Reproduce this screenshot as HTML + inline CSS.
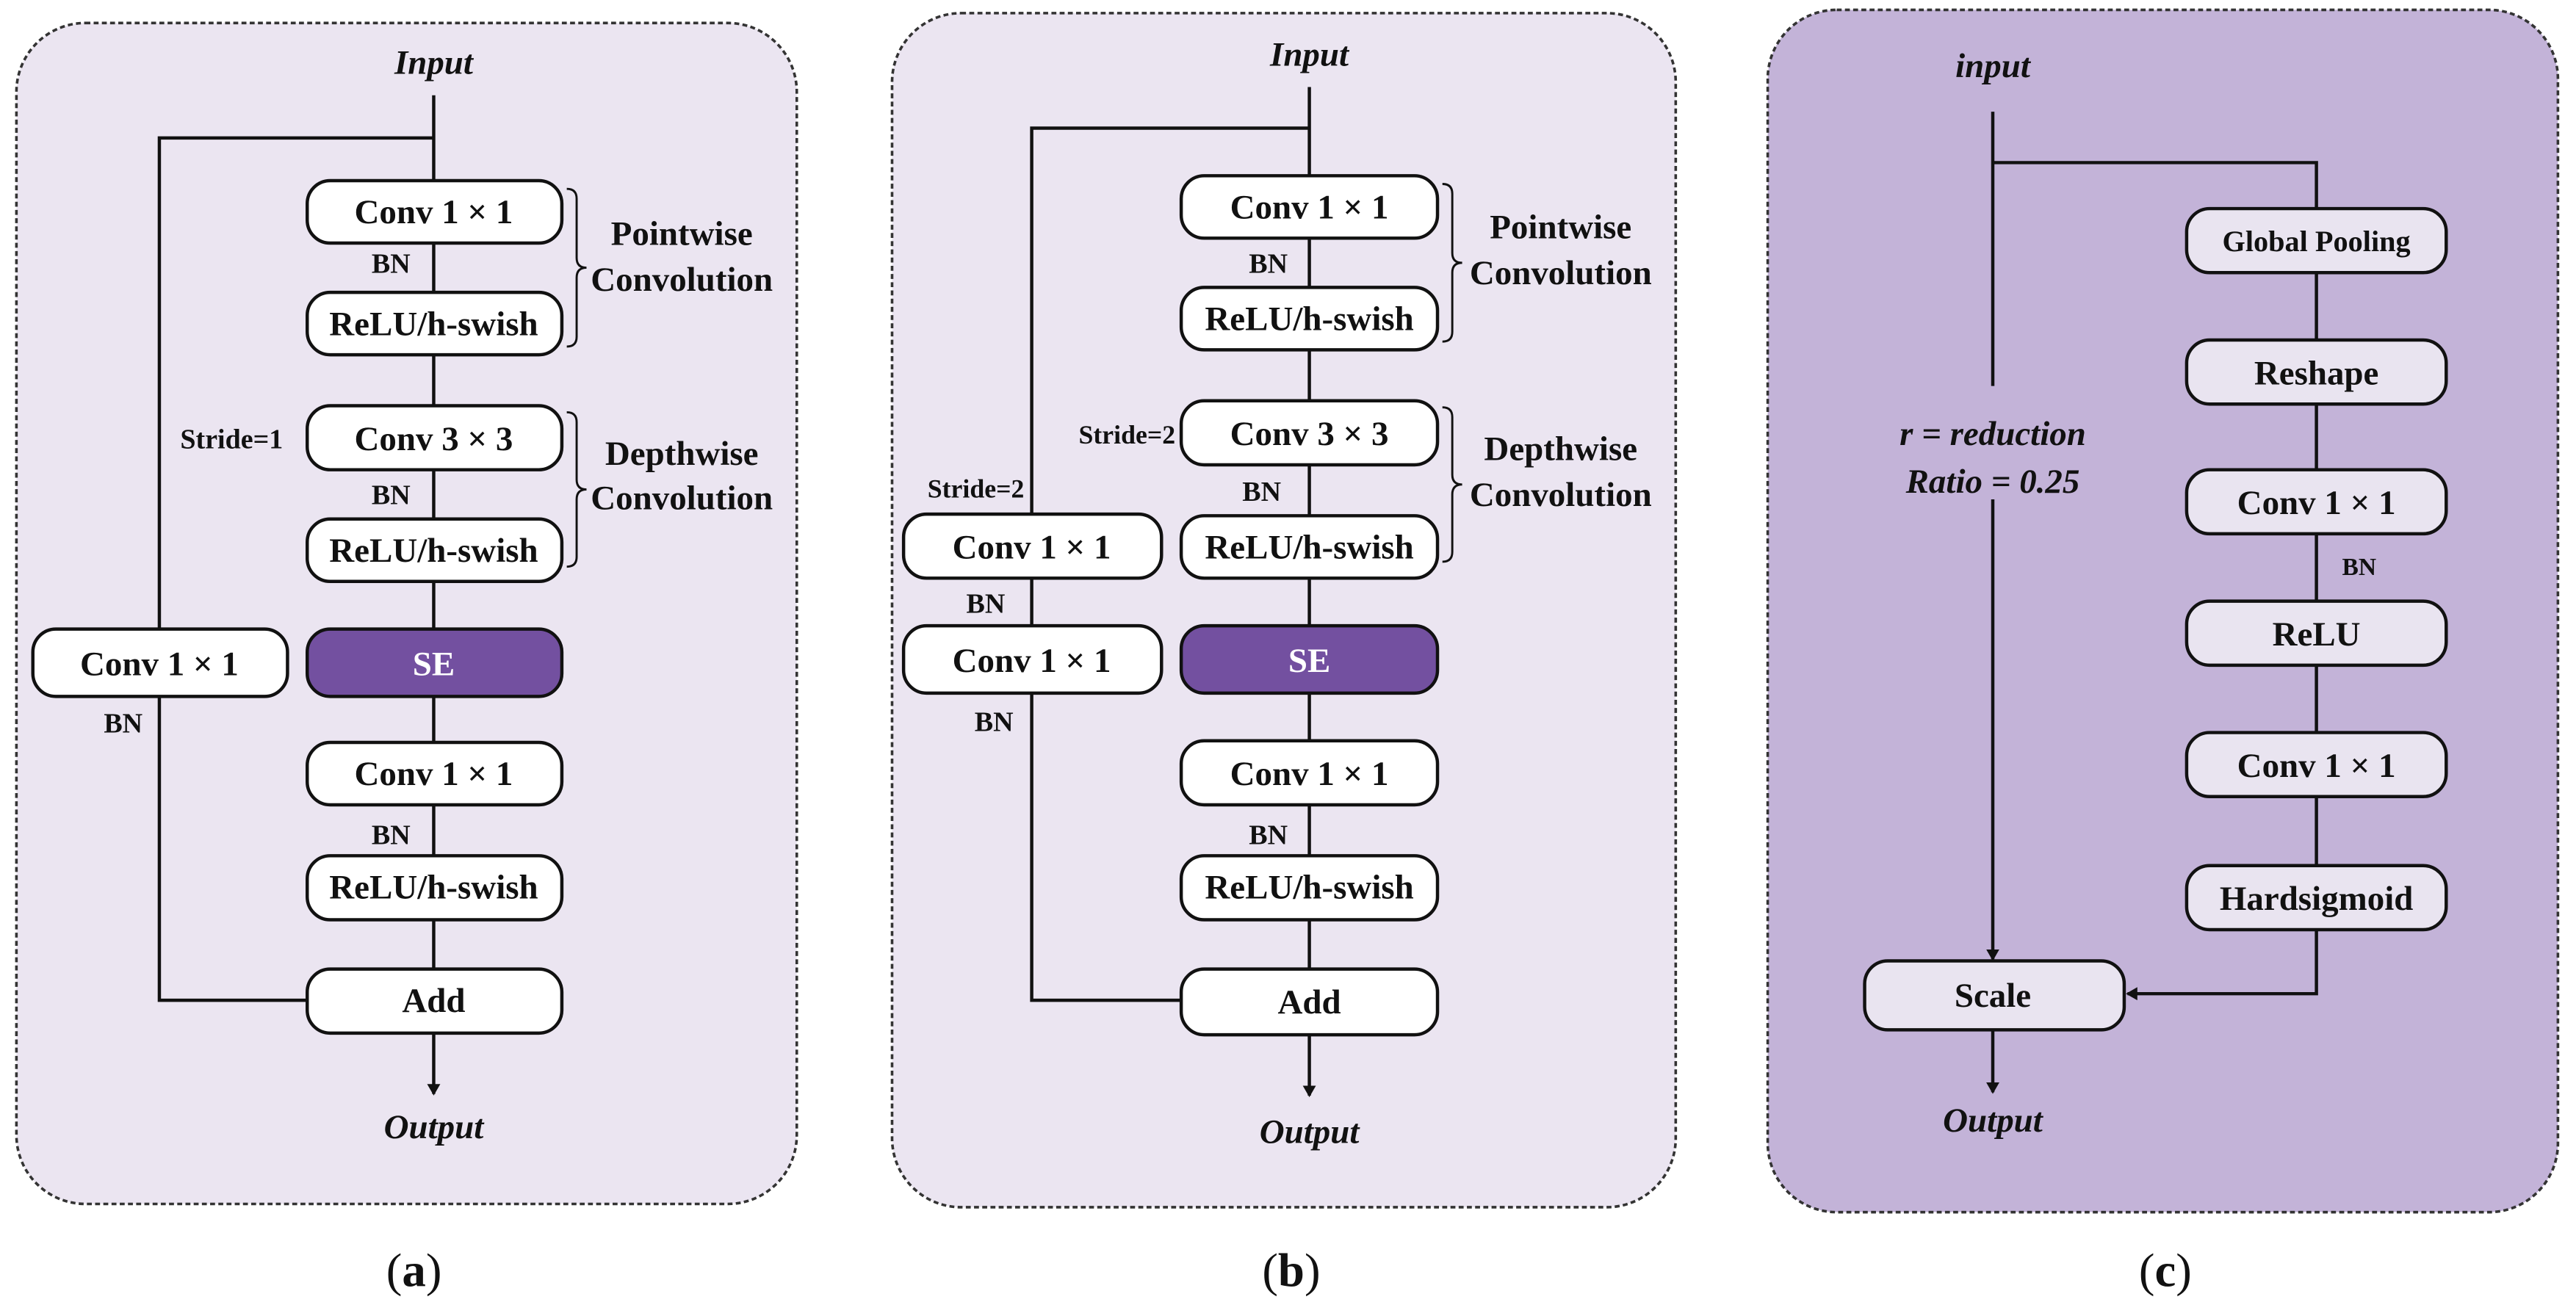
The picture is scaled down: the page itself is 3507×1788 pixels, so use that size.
<!DOCTYPE html>
<html><head><meta charset="utf-8"><style>
html,body{margin:0;padding:0;background:#fff;}
svg{display:block;}
text{font-family:"Liberation Serif",serif;font-weight:bold;fill:#111;}
</style></head><body>
<svg width="3507" height="1788" viewBox="0 0 1568 799.4" preserveAspectRatio="none" xmlns="http://www.w3.org/2000/svg">
<defs>
<marker id="ar" markerWidth="8" markerHeight="8" refX="6" refY="4" orient="auto" markerUnits="userSpaceOnUse"><path d="M0,0 L7,4 L0,8 Z" fill="#111"/></marker>
</defs>
<rect width="1568" height="800" fill="#fff"/>
<rect x="10" y="14" width="475" height="719" rx="42" fill="#ebe5f1" stroke="#333" stroke-width="1.6" stroke-dasharray="3,2"/>
<rect x="543" y="8" width="477" height="727" rx="42" fill="#ebe5f1" stroke="#333" stroke-width="1.6" stroke-dasharray="3,2"/>
<rect x="1076" y="6" width="481" height="732" rx="42" fill="#c3b3d8" stroke="#333" stroke-width="1.6" stroke-dasharray="3,2"/>

<g stroke="#111" stroke-width="2" fill="none">
<line x1="264" y1="58" x2="264" y2="590"/>
<polyline points="264,84 97,84 97,609 187,609"/>
<line x1="264" y1="629" x2="264" y2="666" marker-end="url(#ar)"/>
<line x1="797" y1="53" x2="797" y2="590"/>
<polyline points="797,78 628,78 628,609 719,609"/>
<line x1="797" y1="630" x2="797" y2="667" marker-end="url(#ar)"/>
<line x1="1213" y1="68" x2="1213" y2="235"/>
<line x1="1213" y1="304" x2="1213" y2="584" marker-end="url(#ar)"/>
<polyline points="1213,99 1410,99 1410,566"/>
<polyline points="1410,566 1410,605 1295,605" marker-end="url(#ar)"/>
<line x1="1213" y1="627" x2="1213" y2="665" marker-end="url(#ar)"/>
<path d="M345,115 q6,0 6,6 v36 q0,6 6,6 q-6,0 -6,6 v36 q0,6 -6,6" stroke-width="1.3"/>
<path d="M345,251 q6,0 6,6 v35 q0,6 6,6 q-6,0 -6,6 v35 q0,6 -6,6" stroke-width="1.3"/>
<path d="M878,112 q6,0 6,6 v36 q0,6 6,6 q-6,0 -6,6 v36 q0,6 -6,6" stroke-width="1.3"/>
<path d="M878,248 q6,0 6,6 v35 q0,6 6,6 q-6,0 -6,6 v35 q0,6 -6,6" stroke-width="1.3"/>
</g>

<g stroke="#111" stroke-width="2" fill="#fff">
<rect x="187" y="110" width="155" height="38" rx="14"/>
<rect x="187" y="178" width="155" height="38" rx="14"/>
<rect x="187" y="247" width="155" height="39" rx="14"/>
<rect x="187" y="316" width="155" height="38" rx="14"/>
<rect x="187" y="383" width="155" height="41" rx="14" fill="#7350a0"/>
<rect x="187" y="452" width="155" height="38" rx="14"/>
<rect x="187" y="521" width="155" height="39" rx="14"/>
<rect x="187" y="590" width="155" height="39" rx="14"/>
<rect x="20" y="383" width="155" height="41" rx="14"/>
<rect x="719" y="107" width="156" height="38" rx="14"/>
<rect x="719" y="175" width="156" height="38" rx="14"/>
<rect x="719" y="244" width="156" height="39" rx="14"/>
<rect x="719" y="314" width="156" height="38" rx="14"/>
<rect x="719" y="381" width="156" height="41" rx="14" fill="#7350a0"/>
<rect x="719" y="451" width="156" height="39" rx="14"/>
<rect x="719" y="521" width="156" height="39" rx="14"/>
<rect x="719" y="590" width="156" height="40" rx="14"/>
<rect x="550" y="313" width="157" height="39" rx="14"/>
<rect x="550" y="381" width="157" height="41" rx="14"/>
<g fill="#e9e4f0">
<rect x="1331" y="127" width="158" height="39" rx="14"/>
<rect x="1331" y="207" width="158" height="39" rx="14"/>
<rect x="1331" y="286" width="158" height="39" rx="14"/>
<rect x="1331" y="366" width="158" height="39" rx="14"/>
<rect x="1331" y="446" width="158" height="39" rx="14"/>
<rect x="1331" y="527" width="158" height="39" rx="14"/>
<rect x="1135" y="585" width="158" height="42" rx="14"/>
</g>
</g>

<g font-size="21" text-anchor="middle">
<text x="264" y="136">Conv 1 × 1</text>
<text x="264" y="204">ReLU/h-swish</text>
<text x="264" y="274">Conv 3 × 3</text>
<text x="264" y="342">ReLU/h-swish</text>
<text x="264" y="411" style="fill:#fff">SE</text>
<text x="264" y="478">Conv 1 × 1</text>
<text x="264" y="547">ReLU/h-swish</text>
<text x="264" y="616">Add</text>
<text x="97" y="411">Conv 1 × 1</text>
<text x="797" y="133">Conv 1 × 1</text>
<text x="797" y="201">ReLU/h-swish</text>
<text x="797" y="271">Conv 3 × 3</text>
<text x="797" y="340">ReLU/h-swish</text>
<text x="797" y="409" style="fill:#fff">SE</text>
<text x="797" y="478">Conv 1 × 1</text>
<text x="797" y="547">ReLU/h-swish</text>
<text x="797" y="617">Add</text>
<text x="628" y="340">Conv 1 × 1</text>
<text x="628" y="409">Conv 1 × 1</text>
<text x="1410" y="153" font-size="18">Global Pooling</text>
<text x="1410" y="234">Reshape</text>
<text x="1410" y="313">Conv 1 × 1</text>
<text x="1410" y="393">ReLU</text>
<text x="1410" y="473">Conv 1 × 1</text>
<text x="1410" y="554">Hardsigmoid</text>
<text x="1213" y="613">Scale</text>
<text x="415" y="149">Pointwise</text>
<text x="415" y="177">Convolution</text>
<text x="415" y="283">Depthwise</text>
<text x="415" y="310">Convolution</text>
<text x="950" y="145">Pointwise</text>
<text x="950" y="173">Convolution</text>
<text x="950" y="280">Depthwise</text>
<text x="950" y="308">Convolution</text>
</g>

<g font-size="17" text-anchor="middle">
<text x="238" y="166">BN</text>
<text x="238" y="307">BN</text>
<text x="238" y="514">BN</text>
<text x="75" y="446">BN</text>
<text x="772" y="166">BN</text>
<text x="768" y="305">BN</text>
<text x="772" y="514">BN</text>
<text x="600" y="373">BN</text>
<text x="605" y="445">BN</text>
<text x="1436" y="350" font-size="15">BN</text>
<text x="141" y="273">Stride=1</text>
<text x="686" y="270" font-size="16">Stride=2</text>
<text x="594" y="303" font-size="16">Stride=2</text>
</g>

<g font-size="21" text-anchor="middle" font-style="italic">
<text x="264" y="45">Input</text>
<text x="264" y="693">Output</text>
<text x="797" y="40">Input</text>
<text x="797" y="696">Output</text>
<text x="1213" y="47">input</text>
<text x="1213" y="689">Output</text>
<text x="1213" y="271">r = reduction</text>
<text x="1213" y="300">Ratio = 0.25</text>
</g>

<g font-size="29" text-anchor="middle">
<text x="252" y="783" style="font-weight:normal">(<tspan style="font-weight:bold">a</tspan>)</text>
<text x="786" y="783" style="font-weight:normal">(<tspan style="font-weight:bold">b</tspan>)</text>
<text x="1318" y="783" style="font-weight:normal">(<tspan style="font-weight:bold">c</tspan>)</text>
</g>
</svg>
</body></html>
